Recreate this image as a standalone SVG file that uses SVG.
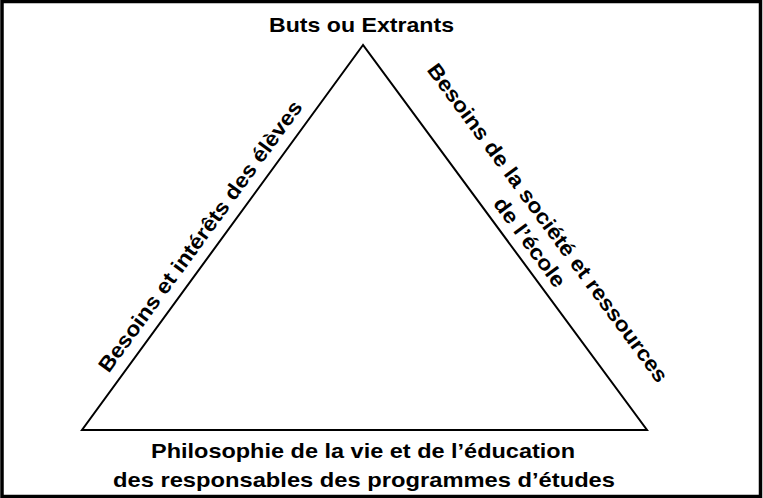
<svg xmlns="http://www.w3.org/2000/svg" width="763" height="498" viewBox="0 0 763 498">
  <style>
    .lbl { font-family: "Liberation Sans", Arial, Helvetica, sans-serif; font-weight: bold; font-size: 21px; fill: #000; }
    .edge { fill: none; stroke: #000; stroke-width: 2; stroke-linejoin: miter; }
  </style>
  <rect x="0" y="0" width="763" height="498" fill="#fff"/>
  <rect x="2" y="1.5" width="758.5" height="495" fill="none" stroke="#000" stroke-width="3.5"/>
  <g id="connectors">
    <polygon class="edge" points="363,45 82,430 647,430"/>
  </g>
  <g id="node-top">
    <text class="lbl" x="361.5" y="32" text-anchor="middle" textLength="185" lengthAdjust="spacingAndGlyphs">Buts ou Extrants</text>
  </g>
  <g id="node-left">
    <text class="lbl" text-anchor="middle" transform="translate(206,240.5) rotate(-53.87)" textLength="330" lengthAdjust="spacingAndGlyphs">Besoins et intérêts des élèves</text>
  </g>
  <g id="node-right">
    <text class="lbl" text-anchor="middle" transform="translate(542,227) rotate(53.6)" textLength="390" lengthAdjust="spacingAndGlyphs">Besoins de la société et ressources</text>
    <text class="lbl" text-anchor="middle" transform="translate(524,246.5) rotate(53.6)" textLength="106" lengthAdjust="spacingAndGlyphs">de l’école</text>
  </g>
  <g id="node-bottom">
    <text class="lbl" x="363" y="457.5" text-anchor="middle" textLength="424" lengthAdjust="spacingAndGlyphs">Philosophie de la vie et de l’éducation</text>
    <text class="lbl" x="364" y="486.5" text-anchor="middle" textLength="502" lengthAdjust="spacingAndGlyphs">des responsables des programmes d’études</text>
  </g>
</svg>
